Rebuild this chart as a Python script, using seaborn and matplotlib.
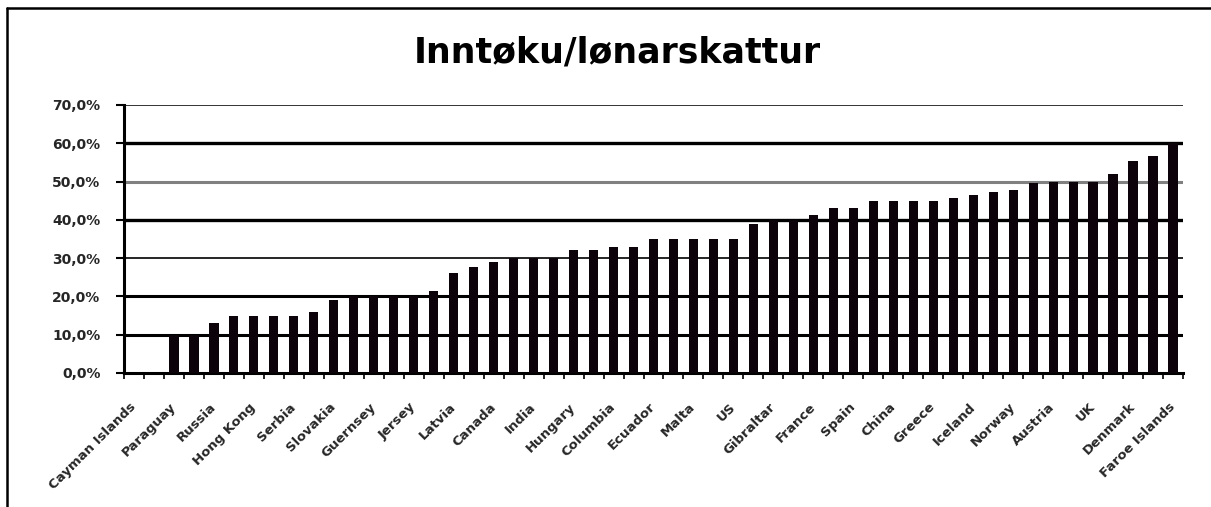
import matplotlib
matplotlib.use("Agg")
import matplotlib.pyplot as plt
import seaborn as sns
import pandas as pd
import numpy as np
from matplotlib.ticker import FuncFormatter

title = "Inntøku/lønarskattur"

# Labels shown on every other category (odd categories are unlabeled in the reference)
label_names = ["Cayman Islands", "Paraguay", "Russia", "Hong Kong", "Serbia", "Slovakia",
               "Guernsey", "Jersey", "Latvia", "Canada", "India", "Hungary", "Columbia",
               "Ecuador", "Malta", "US", "Gibraltar", "France", "Spain", "China", "Greece",
               "Iceland", "Norway", "Austria", "UK", "Denmark", "Faroe Islands"]

# Tax rate (%) for each of the 53 categories, left to right
rates = [0, 0, 10, 10, 13, 15, 15, 15, 15, 16, 19, 20, 20, 20, 20, 21.5, 26, 27.7, 29, 30,
         30, 30, 32, 32, 33, 33, 35, 35, 35, 35, 35, 39, 40, 40, 41.3, 43, 43, 45, 45, 45,
         45, 45.8, 46.6, 47.3, 47.9, 49.7, 50, 50, 50, 52, 55.4, 56.7, 60]

y_ticks = [0, 10, 20, 30, 40, 50, 60, 70]

n = len(rates)
df = pd.DataFrame({"pos": list(range(n)), "rate": rates})

sns.set_theme(style="white")
plt.rcParams['font.family'] = ['DejaVu Sans']

fig = plt.figure(figsize=(12.11, 5.07), dpi=100)
ax = fig.add_axes([124/1211, 1 - 373/507, (1183 - 124)/1211, (373 - 105)/507])

sns.barplot(data=df, x="pos", y="rate", color="#0b0309", saturation=1, width=0.46,
            ax=ax, zorder=3)
for p in ax.patches:
    p.set_edgecolor("none")

ax.set_xlim(-0.5, n - 0.5)
ax.set_ylim(0, 70)
ax.set_yticks(y_ticks)
ax.yaxis.set_major_formatter(FuncFormatter(lambda v, _: f"{v:.1f}%".replace(".", ",")))
for lab in ax.get_yticklabels():
    lab.set_fontweight("bold")
    lab.set_fontsize(10)
ax.tick_params(axis="y", which="major", length=6, width=1.5, color="black", direction="out",
               left=True, pad=11)

# x labels on even categories
ax.set_xticks(list(range(0, n, 2)))
ax.set_xticklabels(label_names, rotation=45, ha="right", va="center",
                   rotation_mode="anchor", fontsize=9.5, fontweight="bold")
ax.tick_params(axis="x", which="major", length=0, pad=23)
ax.set_xticks(np.arange(-0.5, n, 1.0), minor=True)
ax.tick_params(axis="x", which="minor", length=4, width=1.2, color="black", direction="out",
               bottom=True)

ax.set_xlabel("")
ax.set_ylabel("")

# gridlines
widths = {10: 2.2, 20: 2.2, 30: 1.2, 40: 2.4, 50: 2.2, 60: 2.4, 70: 1.4}
colors = {50: "#808080", 70: "#333333"}
for v in y_ticks[1:]:
    ax.axhline(v, color=colors.get(v, "black"), lw=widths[v], zorder=1)

for s in ["top", "right"]:
    ax.spines[s].set_visible(False)
ax.spines["left"].set_color("black")
ax.spines["left"].set_linewidth(2.2)
ax.spines["bottom"].set_color("black")
ax.spines["bottom"].set_linewidth(2.2)

fig.text(617/1211, 1 - 52/507, title, ha="center", va="center", fontsize=25,
         fontweight="heavy", color="black")

# outer chart border (left and top edges visible)
fig.add_artist(plt.Line2D([7/1211, 7/1211], [-0.1, 1 - 8/507], color="black", lw=1.8,
                          transform=fig.transFigure))
fig.add_artist(plt.Line2D([7/1211, 1.1], [1 - 8/507, 1 - 8/507], color="black", lw=1.8,
                          transform=fig.transFigure))

fig.savefig("out.png", dpi=100)
